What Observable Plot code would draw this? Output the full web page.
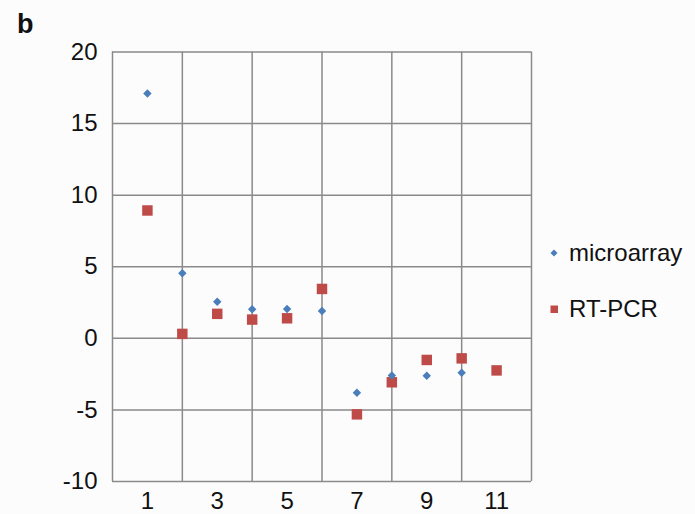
<!DOCTYPE html>
<html>
<head>
<meta charset="utf-8">
<script src="https://cdn.jsdelivr.net/npm/d3@7"></script>
<script src="https://cdn.jsdelivr.net/npm/@observablehq/plot@0.6"></script>
<style>
  html, body { margin: 0; padding: 0; background: #fcfcfd; }
  #wrap { position: relative; width: 695px; height: 514px; font-family: "Liberation Sans", Arial, sans-serif; }
  #panel { position: absolute; left: 17px; top: 9px; font-size: 27px; font-weight: bold; color: #111; }
  .leg { position: absolute; left: 548px; font-size: 24px; color: #111; display: flex; align-items: center; white-space: nowrap; }
  .leg svg { margin-right: 9px; }
</style>
</head>
<body>
<div id="wrap">
  <div id="chart"></div>
  <div id="panel">b</div>
  <div class="leg" style="top:239px"><svg width="12" height="12"><path d="M6,2.5L9.5,6L6,9.5L2.5,6Z" fill="#4a7ebb"/></svg>microarray</div>
  <div class="leg" style="top:295px"><svg width="12" height="12"><rect x="2.5" y="2.5" width="7.5" height="7.5" fill="#be4b48"/></svg>RT-PCR</div>
</div>
<script>
const categories = [1, 2, 3, 4, 5, 6, 7, 8, 9, 10, 11];
const microarray = [17.1, 4.55, 2.55, 2.03, 2.05, 1.91, -3.8, -2.59, -2.61, -2.4, null];
const rtpcr = [8.93, 0.31, 1.71, 1.31, 1.4, 3.45, -5.31, -3.07, -1.51, -1.4, -2.24];
const yTicks = [-10, -5, 0, 5, 10, 15, 20];
const xGrid = [0, 2, 4, 6, 8, 10, 12];
const xLabels = [1, 3, 5, 7, 9, 11];

const seriesNames = ["microarray", "RT-PCR"];
const colors = ["#4a7ebb", "#be4b48"];

const micro = categories.map((c, i) => ({x: c, y: microarray[i]})).filter(d => d.y != null);
const pcr = categories.map((c, i) => ({x: c, y: rtpcr[i]})).filter(d => d.y != null);

const gridColor = "#8a8a8a";

const chart = Plot.plot({
  width: 695,
  height: 514,
  marginLeft: 112,
  marginRight: 164,
  marginTop: 51.5,
  marginBottom: 33,
  style: {fontFamily: "'Liberation Sans', Arial, sans-serif", fontSize: "24px", background: "transparent", color: "#111", overflow: "visible"},
  x: {domain: [0, 12]},
  y: {domain: [-10, 20]},
  marks: [
    Plot.ruleY(yTicks, {stroke: gridColor, strokeWidth: 1.5, strokeOpacity: 1}),
    Plot.ruleX(xGrid, {stroke: gridColor, strokeWidth: 1.5, strokeOpacity: 1}),
    Plot.axisY(yTicks, {tickSize: 0, tickPadding: 15, fontSize: 24, label: null, fill: "#111", tickFormat: d => String(d)}),
    Plot.axisX(xLabels, {tickSize: 0, tickPadding: 10, fontSize: 24, label: null, fill: "#111", tickFormat: d => String(d)}),
    Plot.dot(pcr, {x: "x", y: "y", symbol: "square", r: 5.9, fill: colors[1], stroke: "none"}),
    Plot.dot(micro, {x: "x", y: "y", symbol: "diamond2", r: 3.8, fill: colors[0], stroke: "none"})
  ]
});
document.getElementById("chart").appendChild(chart);
</script>
</body>
</html>
